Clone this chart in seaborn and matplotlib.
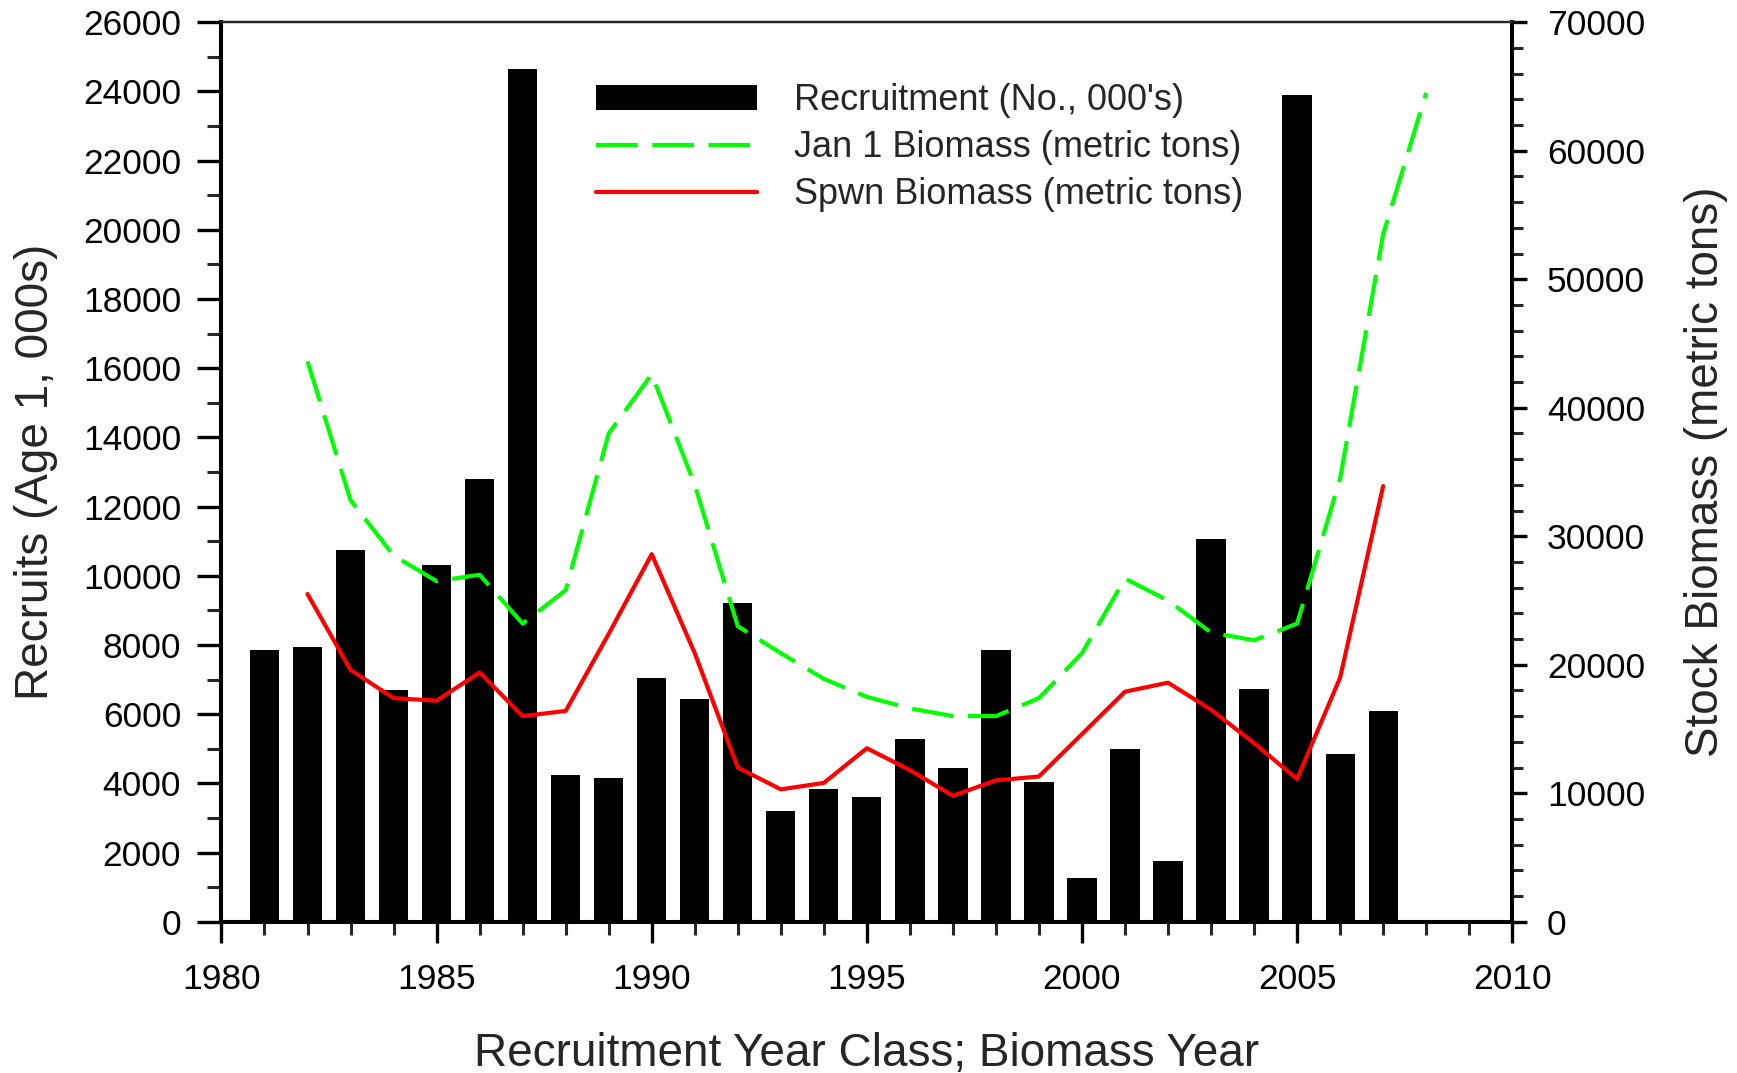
import numpy as np
import pandas as pd
import seaborn as sns
import matplotlib
matplotlib.use("Agg")
import matplotlib.pyplot as plt
from matplotlib.ticker import MultipleLocator

# ---------------- data ----------------
rec_years = list(range(1981, 2008))
recruits = [7850, 7950, 10750, 6700, 10300, 12800, 24650, 4250, 4150, 7050,
            6450, 9200, 3200, 3850, 3600, 5280, 4450, 7850, 4050, 1250,
            4980, 1750, 11050, 6720, 23900, 4850, 6100]

jan_years = list(range(1982, 2009))
jan1_biomass = [43600, 32800, 28500, 26500, 27000, 23200, 25800, 38000, 42600, 34000,
                23000, 20900, 18900, 17500, 16600, 16000, 16000, 17400, 20900, 26700,
                25000, 22500, 21900, 23200, 34500, 53500, 64500]

spwn_years = list(range(1982, 2008))
spwn_biomass = [25500, 19600, 17400, 17200, 19400, 16000, 16400, 22400, 28600, 20900,
                12000, 10300, 10800, 13500, 11800, 9800, 11000, 11300, 14600, 17900,
                18600, 16500, 13900, 11100, 19000, 33900]

x_ticks = [1980, 1985, 1990, 1995, 2000, 2005, 2010]

rec_df = pd.DataFrame({"year": rec_years, "recruits": recruits})
jan_df = pd.DataFrame({"year": jan_years, "biomass": jan1_biomass})
spwn_df = pd.DataFrame({"year": spwn_years, "biomass": spwn_biomass})

# ---------------- style ----------------
sns.set_style("ticks")
plt.rcParams["font.family"] = ["Liberation Sans", "DejaVu Sans"]

fig = plt.figure(figsize=(17.37, 10.73), dpi=100)
ax = fig.add_axes([0.1275, 0.1410, 0.7431, 0.8383])

sns.barplot(data=rec_df, x="year", y="recruits", native_scale=True, width=0.68,
            color="black", saturation=1, edgecolor="none", linewidth=0, ax=ax,
            label="Recruitment (No., 000's)")

ax2 = ax.twinx()
sns.lineplot(data=jan_df, x="year", y="biomass", color="#00ff00", lw=3.0,
             dashes=False, ax=ax2, label="Jan 1 Biomass (metric tons)")
ax2.lines[-1].set_dashes((10, 3.5))
sns.lineplot(data=spwn_df, x="year", y="biomass", color="#ff0000", lw=3.0,
             ax=ax2, label="Spwn Biomass (metric tons)")

ax.set_xlim(1980, 2010)
ax.set_ylim(0, 26000)
ax2.set_ylim(0, 70000)
ax.set_xticks(x_ticks)
ax.set_xticklabels([str(t) for t in x_ticks])
ax.xaxis.set_minor_locator(MultipleLocator(1))
ax.yaxis.set_major_locator(MultipleLocator(2000))
ax.yaxis.set_minor_locator(MultipleLocator(1000))
ax2.yaxis.set_major_locator(MultipleLocator(10000))
ax2.yaxis.set_minor_locator(MultipleLocator(2000))

for a in (ax, ax2):
    for side in ("left", "right", "bottom"):
        a.spines[side].set_linewidth(2.9)
        a.spines[side].set_color("black")
        a.spines[side].set_visible(True)
    a.spines["top"].set_linewidth(1.6)
    a.spines["top"].set_visible(True)

ax.tick_params(axis="x", which="major", direction="out", length=15, width=2.4,
               labelsize=25.5, pad=15, colors="black")
ax.tick_params(axis="x", which="minor", direction="out", length=9, width=2.2)
ax.tick_params(axis="y", which="major", direction="out", length=17, width=2.4,
               labelsize=25.5, pad=12, colors="black")
ax.tick_params(axis="y", which="minor", direction="out", length=10, width=2.2)
ax2.tick_params(axis="y", which="major", direction="out", length=11, width=2.4,
                labelsize=25.5, pad=14, colors="black")
ax2.tick_params(axis="y", which="minor", direction="out", length=8, width=2.2)

ax.set_xlabel("Recruitment Year Class; Biomass Year", fontsize=33, va="center")
ax.xaxis.set_label_coords(0.5, -0.1475)
ax.set_ylabel("Recruits (Age 1, 000s)", fontsize=33, va="center")
ax.yaxis.set_label_coords(-0.144, 0.5)
ax2.set_ylabel("Stock Biomass (metric tons)", fontsize=33, va="center", rotation=90)
ax2.yaxis.set_label_coords(1.150, 0.5)

# legend
h1, l1 = ax.get_legend_handles_labels()
h2, l2 = ax2.get_legend_handles_labels()
if ax.get_legend():
    ax.get_legend().remove()
leg = ax2.legend(h1 + h2, l1 + l2, loc="upper left", bbox_to_anchor=(0.290, 0.932),
                 frameon=False, fontsize=26, handlelength=4.47, handletextpad=1.03,
                 labelspacing=0.33, borderpad=0, borderaxespad=0)

fig.savefig("out.png", dpi=100)
